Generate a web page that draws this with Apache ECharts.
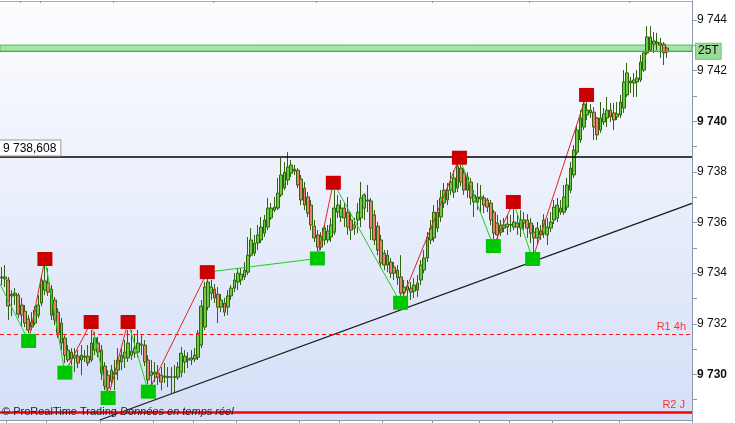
<!DOCTYPE html>
<html><head><meta charset="utf-8">
<script src="https://cdn.jsdelivr.net/npm/echarts@6/dist/echarts.min.js"></script>
<style>html,body{margin:0;padding:0;background:#fff;}#c{width:735px;height:423px;}</style>
</head><body><div id="c"></div>
<script>
const opens = [9733.81,9733.85,9733.73,9733.10,9733.13,9733.13,9732.74,9732.50,9732.19,9731.87,
9732.03,9732.34,9732.82,9733.33,9733.61,9733.37,9732.94,9732.46,9732.03,9731.44,
9730.57,9730.88,9730.65,9730.72,9730.57,9730.68,9730.72,9730.57,9730.96,9731.24,
9730.96,9730.33,9729.97,9729.74,9730.01,9730.17,9730.49,9730.65,9730.65,9730.92,
9730.84,9730.88,9731.20,9731.16,9730.57,9729.97,9730.01,9730.05,9729.97,9729.89,
9729.89,9729.89,9729.89,9729.89,9730.09,9730.49,9730.57,9730.57,9730.61,9730.68,
9731.16,9731.87,9732.66,9733.21,9733.37,9733.17,9732.66,9732.82,9732.66,9733.10,
9733.41,9733.65,9733.73,9733.85,9734.04,9734.71,9734.79,9735.19,9735.31,9735.58,
9735.82,9736.18,9736.49,9736.57,9737.09,9737.36,9737.68,9737.95,9738.11,9738.07,
9737.72,9737.36,9737.01,9736.69,9735.86,9735.51,9735.03,9735.31,9735.31,9735.43,
9735.62,9736.41,9736.22,9736.57,9736.41,9736.10,9735.90,9736.10,9736.18,9736.57,
9736.89,9736.85,9736.30,9735.86,9735.31,9734.79,9734.71,9734.44,9734.24,9734.12,
9733.85,9733.25,9733.33,9733.41,9733.29,9733.33,9733.73,9734.12,9734.60,9735.31,
9735.39,9735.78,9736.22,9736.77,9736.89,9737.28,9737.20,9737.36,9738.15,9737.95,
9737.80,9737.60,9736.81,9737.01,9736.93,9736.97,9736.89,9736.77,9736.41,9735.98,
9735.62,9735.78,9735.82,9735.90,9735.82,9735.98,9735.78,9735.98,9736.10,9735.98,
9735.62,9735.39,9735.51,9735.58,9735.51,9735.78,9736.10,9736.18,9736.41,9736.41,
9736.61,9737.28,9737.88,9738.78,9739.26,9739.77,9740.25,9740.33,9740.36,9740.13,
9739.65,9739.97,9740.13,9740.44,9740.33,9740.17,9740.25,9740.52,9741.04,9741.51,
9741.51,9741.55,9741.63,9742.02,9742.70,9742.81,9743.05,9743.09,9743.09,9743.05,
9742.89];
const closes = [9733.85,9733.77,9732.70,9733.17,9733.21,9732.38,9732.34,9732.03,9731.75,9732.07,
9732.54,9732.74,9733.73,9733.69,9733.25,9732.34,9732.15,9731.63,9731.24,9730.76,
9730.96,9730.61,9730.76,9730.45,9730.76,9730.72,9730.45,9731.24,9731.44,9730.88,
9730.05,9729.54,9729.46,9730.17,9730.09,9730.57,9730.76,9730.88,9731.24,9730.76,
9731.04,9731.24,9731.16,9730.49,9729.78,9730.09,9730.09,9729.89,9729.70,9729.93,
9729.91,9729.90,9729.91,9730.29,9730.84,9730.72,9730.61,9730.65,9730.76,9731.63,
9732.70,9733.45,9733.65,9733.45,9733.02,9732.66,9732.94,9732.46,9733.10,9733.41,
9733.73,9734.00,9733.96,9734.12,9734.71,9735.31,9735.19,9735.51,9735.82,9736.10,
9736.57,9736.57,9736.61,9737.16,9737.88,9737.99,9738.19,9738.27,9738.03,9737.48,
9736.89,9736.69,9736.37,9735.90,9735.39,9735.03,9735.43,9735.78,9735.66,9735.90,
9736.57,9736.69,9736.57,9736.18,9735.82,9735.70,9735.78,9736.41,9736.97,9737.09,
9736.85,9735.78,9735.31,9734.91,9734.40,9734.32,9734.32,9734.00,9734.00,9733.81,
9733.21,9733.45,9733.49,9733.25,9733.53,9733.61,9734.32,9734.60,9735.43,9735.78,
9736.41,9736.41,9736.97,9737.28,9737.28,9737.60,9737.76,9738.23,9737.60,9737.28,
9737.28,9736.97,9737.09,9736.81,9737.01,9736.69,9736.61,9736.10,9735.58,9735.51,
9735.90,9735.90,9735.94,9735.92,9736.02,9735.82,9736.10,9736.10,9735.78,9735.58,
9735.39,9735.78,9735.66,9736.10,9735.82,9736.02,9736.61,9736.69,9736.57,9737.01,
9737.48,9738.15,9738.86,9739.65,9740.13,9740.68,9740.44,9740.44,9739.77,9739.46,
9740.13,9740.29,9740.44,9740.17,9740.05,9740.29,9740.76,9741.55,9741.91,9741.59,
9741.63,9741.71,9742.34,9742.70,9743.33,9743.33,9743.17,9743.13,9743.01,9742.70,
9742.74];
const lows = [9733.53,9733.45,9732.15,9732.30,9732.74,9732.23,9731.87,9731.87,9731.63,9731.75,
9731.95,9732.23,9732.70,9733.13,9733.10,9732.15,9731.95,9731.44,9730.96,9730.45,
9730.49,9730.37,9730.09,9730.25,9729.97,9730.49,9730.33,9730.49,9730.76,9730.68,
9729.78,9729.38,9729.34,9729.58,9729.38,9729.78,9730.17,9730.25,9730.49,9730.57,
9730.65,9730.68,9730.76,9730.33,9729.62,9729.50,9729.70,9729.58,9729.38,9729.66,
9729.50,9729.26,9729.30,9729.78,9729.89,9730.05,9730.25,9730.37,9730.49,9730.57,
9731.04,9731.75,9732.54,9732.94,9732.82,9732.03,9732.46,9732.30,9732.34,9732.94,
9733.25,9733.33,9733.53,9733.73,9733.92,9734.64,9734.68,9734.91,9735.19,9735.43,
9735.70,9736.10,9736.41,9736.49,9737.01,9737.28,9737.48,9737.80,9737.88,9737.36,
9736.69,9736.49,9736.22,9735.70,9735.23,9734.87,9734.91,9735.11,9735.19,9735.23,
9735.51,9736.18,9736.02,9735.82,9735.51,9735.31,9735.51,9735.58,9735.82,9736.10,
9736.41,9735.31,9735.11,9734.71,9734.20,9734.12,9734.04,9733.81,9733.73,9733.53,
9733.10,9733.13,9733.10,9732.94,9733.02,9733.06,9733.53,9734.00,9734.44,9735.15,
9735.23,9735.62,9736.02,9736.57,9736.69,9737.09,9736.97,9737.20,9737.44,9737.09,
9736.97,9736.69,9736.22,9736.49,9736.41,9736.37,9736.41,9735.90,9735.35,9735.31,
9735.47,9735.62,9735.51,9735.62,9735.70,9735.51,9735.43,9735.70,9735.39,9735.19,
9734.83,9735.11,9735.31,9735.39,9735.11,9735.62,9735.94,9736.02,9736.30,9736.30,
9736.49,9737.16,9737.76,9738.67,9739.14,9739.65,9740.05,9740.13,9739.26,9739.26,
9739.54,9739.85,9739.77,9739.97,9739.65,9740.05,9740.13,9740.33,9740.96,9741.12,
9740.96,9740.96,9741.55,9741.95,9742.62,9742.74,9742.70,9742.81,9742.50,9742.22,
9742.50];
const highs = [9734.24,9734.32,9733.85,9733.33,9733.41,9733.21,9733.02,9732.74,9732.34,9732.46,
9732.70,9733.13,9733.92,9734.32,9734.20,9733.53,9733.06,9732.62,9732.23,9731.55,
9731.16,9731.04,9731.04,9730.96,9731.16,9730.96,9731.16,9731.75,9731.67,9731.48,
9731.16,9730.49,9730.17,9730.37,9730.57,9731.04,9731.04,9731.36,9731.75,9731.75,
9731.55,9731.75,9731.55,9731.36,9730.76,9730.57,9730.49,9730.37,9730.29,9730.45,
9730.29,9730.29,9730.37,9730.49,9731.08,9730.96,9730.88,9730.96,9731.04,9731.75,
9732.94,9733.65,9733.77,9733.73,9733.57,9733.45,9733.17,9733.02,9733.33,9733.53,
9734.00,9734.20,9734.20,9734.44,9735.43,9735.78,9735.51,9735.90,9736.22,9736.30,
9736.97,9736.77,9737.01,9737.76,9738.55,9738.39,9738.78,9738.47,9738.27,9738.15,
9737.88,9737.60,9737.20,9736.89,9736.10,9735.70,9735.62,9735.90,9735.90,9736.18,
9737.28,9737.09,9736.89,9736.77,9737.01,9736.41,9736.18,9736.77,9737.60,9737.16,
9737.48,9736.97,9736.49,9736.02,9735.51,9734.91,9734.91,9734.60,9734.44,9734.32,
9734.71,9733.73,9733.73,9733.65,9733.81,9733.92,9734.52,9734.91,9735.62,9736.10,
9736.69,9736.89,9737.28,9737.56,9737.56,9737.99,9738.07,9738.35,9738.27,9738.15,
9737.99,9737.76,9737.28,9737.56,9737.48,9737.09,9736.97,9736.89,9736.49,9736.30,
9736.10,9736.18,9736.30,9736.30,9736.53,9736.30,9736.49,9736.41,9736.33,9736.18,
9735.90,9736.02,9735.90,9736.33,9736.18,9736.41,9736.89,9736.97,9736.89,9737.48,
9737.76,9738.39,9739.06,9739.85,9740.44,9740.84,9740.76,9740.68,9740.56,9740.17,
9740.76,9740.52,9740.96,9740.72,9740.72,9740.76,9741.04,9742.02,9742.30,9741.75,
9741.91,9742.02,9742.62,9742.74,9743.76,9743.76,9743.53,9743.49,9743.29,9743.13,
9742.93];

// zigzag pivots (x in candle slots, y in price)
const pivotX = [-0.5, 8.1, 13.0, 19.0, 26.9, 32.0, 38.0, 44.1, 61.8, 94.9, 99.7, 119.9, 137.6, 147.8, 153.8, 159.6, 175.8];
const pivotY = [9733.57, 9731.32, 9734.56, 9730.07, 9732.07, 9729.07, 9732.07, 9729.32, 9734.04, 9734.58, 9737.57, 9732.83, 9738.56, 9735.07, 9736.81, 9734.56, 9741.04];
const pivotKind = ['start','low','high','low','high','low','high','low','high','low','high','low','high','low','high','low','high'];

const trendX = [29.5, 207.5];
const trendY = [9728.20, 9736.76];

const refLevel = 9738.608;
const zoneTop = 9743.01, zoneBottom = 9742.77;
const r1Level = 9731.58, r2Level = 9728.51;

const yTickValues = [9729,9730,9731,9732,9733,9734,9735,9736,9737,9738,9739,9740,9741,9742,9743,9744];
const yLabelValues = [9730,9732,9734,9736,9738,9740,9742,9744];
const bottomTicks = [2,14,30,46,58,71,90,102,115,130,144,153,166,186];
const topTicks = [6,12,34,64,95,130,159,189];
const slotCount = 208;

const slots = Array.from({length: slotCount}, (_, i) => String(i));
const candles = opens.map((o, i) => [o, closes[i], lows[i], highs[i]]);

const RED_SQ = '#cc0000', GREEN_SQ = '#00c800';
const series = [];
series.push({
  type: 'candlestick', xAxisIndex: 0, yAxisIndex: 0, data: candles, barWidth: 3.3, z: 2,
  itemStyle: { color: '#66cc44', color0: '#e8806e', borderColor: '#33620f', borderColor0: '#33620f', borderWidth: 1 },
  markArea: { silent: true, itemStyle: { color: 'rgba(150,222,150,0.85)', borderColor: '#5cbf5c', borderWidth: 1 },
    data: [[{ yAxis: zoneBottom }, { yAxis: zoneTop }]] },
  markLine: { silent: true, symbol: ['none','none'], animation: false,
    data: [
      { yAxis: refLevel, lineStyle: { color: '#000', width: 1.5, type: 'solid' },
        label: { show: true, formatter: '9 738,608', position: 'insideStartTop', distance: [0, 1], color: '#000', fontSize: 12, fontFamily: 'Arial',
          backgroundColor: '#fff', borderColor: '#999', borderWidth: 1, padding: [2, 4, 1, 3] } },
      { yAxis: zoneBottom, lineStyle: { color: '#d9605a', width: 1, type: 'solid' },
        label: { show: true, formatter: '25T', position: 'end', distance: 4, color: '#000', fontSize: 12, fontFamily: 'Arial',
          backgroundColor: '#98dc98', borderColor: '#70c870', borderWidth: 1, padding: [2, 2, 1, 2] } },
      { yAxis: r1Level, lineStyle: { color: '#ff1a1a', width: 1, type: [4, 3] },
        label: { show: true, formatter: 'R1 4h', position: 'insideEndTop', distance: [6, 2], color: '#ff3030', fontSize: 11, fontFamily: 'Arial' } },
      { yAxis: r2Level, lineStyle: { color: '#ff0000', width: 2.5, type: 'solid' },
        label: { show: true, formatter: 'R2 J', position: 'insideEndTop', distance: [7, 2], color: '#ff3030', fontSize: 11, fontFamily: 'Arial' } }
    ] }
});
series.push({
  type: 'line', xAxisIndex: 2, yAxisIndex: 0, data: [[trendX[0], trendY[0]], [trendX[1], trendY[1]]],
  symbol: 'none', lineStyle: { color: '#1a1a1a', width: 1.3 }, z: 3, silent: true, animation: false
});
for (let k = 1; k < pivotX.length; k++) {
  series.push({
    type: 'line', xAxisIndex: 2, yAxisIndex: 0, symbol: 'none', z: 4, silent: true, animation: false,
    data: [[pivotX[k-1], pivotY[k-1]], [pivotX[k], pivotY[k]]],
    lineStyle: { color: pivotKind[k] === 'high' ? '#e02424' : '#22cc22', width: 1, opacity: 1 }
  });
}
series.push({
  type: 'scatter', xAxisIndex: 2, yAxisIndex: 0, symbol: 'rect', symbolSize: [15, 14], z: 5, silent: true, animation: false,
  data: pivotX.map((x, i) => pivotKind[i] === 'high' ? [x, pivotY[i]] : null).filter(d => d),
  itemStyle: { color: RED_SQ, opacity: 1 }
});
series.push({
  type: 'scatter', xAxisIndex: 2, yAxisIndex: 0, symbol: 'rect', symbolSize: [15, 14], z: 5, silent: true, animation: false,
  data: pivotX.map((x, i) => pivotKind[i] === 'low' ? [x, pivotY[i]] : null).filter(d => d),
  itemStyle: { color: GREEN_SQ, opacity: 1 }
});

const chart = echarts.init(document.getElementById('c'), null, { renderer: 'canvas' });
chart.setOption({
  animation: false,
  backgroundColor: '#ffffff',
  grid: { left: 0, right: 43, top: 1, bottom: 3, show: true, borderWidth: 0,
    backgroundColor: new echarts.graphic.LinearGradient(0, 0, 0, 1, [
      { offset: 0, color: '#fdfdff' }, { offset: 1, color: '#d4dff7' }]) },
  xAxis: [
    { type: 'category', data: slots, position: 'bottom', boundaryGap: true,
      axisLine: { show: true, onZero: false, lineStyle: { color: '#8a98ac' } },
      axisTick: { show: true, length: 3, interval: (i) => bottomTicks.includes(i), lineStyle: { color: '#8a98ac' } },
      axisLabel: { show: false }, splitLine: { show: false } },
    { type: 'category', data: slots, position: 'top', boundaryGap: true,
      axisLine: { show: true, onZero: false, lineStyle: { color: '#a4adbb' } },
      axisTick: { show: true, inside: true, length: 2, interval: (i) => topTicks.includes(i), lineStyle: { color: '#8a98ac' } },
      axisLabel: { show: false }, splitLine: { show: false } },
    { type: 'value', min: -0.5, max: slotCount - 0.5, show: false, axisLine: { onZero: false } }
  ],
  yAxis: [{
    type: 'value', position: 'right', min: 9728.2, max: 9744.75,
    axisLine: { show: true, onZero: false, lineStyle: { color: '#8a98ac' } },
    axisTick: { show: true, length: 5, customValues: yTickValues, lineStyle: { color: '#8a98ac' } },
    axisLabel: { show: true, margin: 5, customValues: yLabelValues,
      formatter: (v) => (v % 10 === 0 ? '{b|' : '{n|') + '9 ' + String(v).slice(1) + '}',
      rich: { n: { fontSize: 12, fontFamily: 'Arial', color: '#111' },
              b: { fontSize: 12, fontFamily: 'Arial', fontWeight: 'bold', color: '#111' } } },
    splitLine: { show: false }
  }],
  graphic: [{
    type: 'text', left: 2, top: 406, z: 10, silent: true,
    style: { text: '{a|© ProRealTime Trading }{b|Données en temps réel}',
      rich: { a: { fontSize: 11, fontFamily: 'Arial', fill: '#222' },
              b: { fontSize: 11, fontFamily: 'Arial', fontStyle: 'italic', fill: '#222' } } }
  }],
  series: series
});
</script></body></html>
